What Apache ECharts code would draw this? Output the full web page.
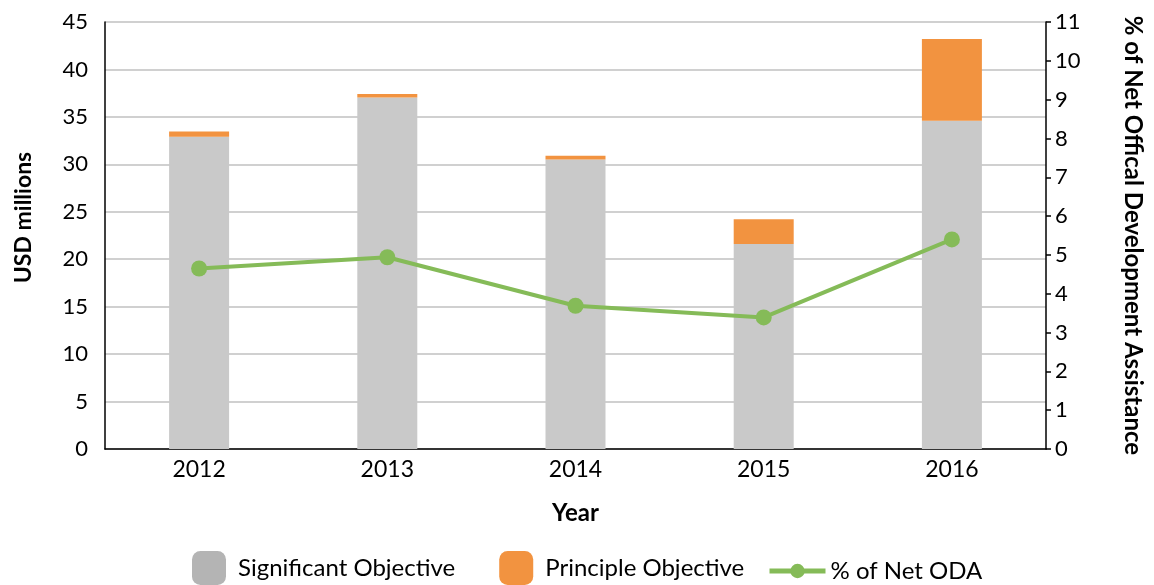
<!DOCTYPE html>
<html><head>
<meta charset="UTF-8">
<title>ODA chart</title>
<script type="text/javascript" src="https://cdn.jsdelivr.net/npm/echarts@6/dist/echarts.min.js"></script>
<style>
html,body{margin:0;padding:0;background:#fff;}
#main{width:1154px;height:585px;}
</style>
</head>
<body>
<div id="main"></div>
<script type="text/javascript">
var years = ['2012', '2013', '2014', '2015', '2016'];
var significant = [32.9, 37.05, 30.5, 21.6, 34.6];
var principle = [0.55, 0.35, 0.4, 2.6, 8.6];
var pctOda = [4.65, 4.94, 3.69, 3.39, 5.4];

var font = 'Lato';
var chart = echarts.init(document.getElementById('main'));
var option = {
	animation: false,
	textStyle: {fontFamily: font},
	grid: {left: 105, right: 108, top: 22, bottom: 136, containLabel: false},
	legend: [{
		left: 187, top: 546,
		itemWidth: 34, itemHeight: 34, itemGap: 44,
		textStyle: {fontSize: 24, color: '#000', fontFamily: font, padding: [0, 0, 0, 7]},
		data: [
			{name: 'Significant Objective', itemStyle: {color: '#b4b4b4'}},
			{name: 'Principle Objective', itemStyle: {color: '#f29340'}}
		]
	}, {
		left: 762, top: 554,
		itemWidth: 56, itemHeight: 18,
		lineStyle: {width: 5},
		textStyle: {fontSize: 24, color: '#000', fontFamily: font},
		data: ['% of Net ODA']
	}],
	xAxis: {
		type: 'category',
		data: years,
		name: 'Year',
		nameLocation: 'middle',
		nameGap: 52,
		nameTextStyle: {fontSize: 24, fontWeight: 'bold', color: '#000', fontFamily: font},
		axisLine: {lineStyle: {color: '#000', width: 1.5}},
		axisTick: {show: false},
		axisLabel: {fontSize: 23, color: '#000', margin: 9, fontFamily: font}
	},
	yAxis: [{
		type: 'value',
		min: 0, max: 45, interval: 5,
		name: 'USD millions',
		nameLocation: 'middle',
		nameGap: 70,
		nameTextStyle: {fontSize: 23, fontWeight: 'bold', color: '#000', fontFamily: font, padding: [0, 0, 0, 36]},
		axisLine: {show: true, lineStyle: {color: '#000', width: 1.5}},
		axisTick: {show: false},
		axisLabel: {fontSize: 22, color: '#000', margin: 17, fontFamily: font},
		splitLine: {lineStyle: {color: '#c0c0c0', width: 1.5}}
	}, {
		type: 'value',
		min: 0, max: 11, interval: 1,
		position: 'right',
		name: '% of Net Offical Development Assistance',
		nameLocation: 'middle',
		nameGap: 75,
		nameRotate: -90,
		nameTextStyle: {fontSize: 24, fontWeight: 'bold', color: '#000', fontFamily: font},
		axisLine: {show: true, lineStyle: {color: '#000', width: 1.5}},
		axisTick: {show: true, length: 5, lineStyle: {color: '#000', width: 1.5}},
		axisLabel: {fontSize: 22, color: '#000', margin: 9, fontFamily: font},
		splitLine: {show: false}
	}],
	series: [{
		name: 'Significant Objective',
		type: 'bar',
		stack: 'total',
		barWidth: 60,
		itemStyle: {color: '#c9c9c9'},
		data: significant
	}, {
		name: 'Principle Objective',
		type: 'bar',
		stack: 'total',
		barWidth: 60,
		itemStyle: {color: '#f29340'},
		data: principle
	}, {
		name: '% of Net ODA',
		type: 'line',
		yAxisIndex: 1,
		symbol: 'circle',
		symbolSize: 16,
		itemStyle: {color: '#85bb58'},
		lineStyle: {color: '#85bb58', width: 4},
		data: pctOda
	}]
};
chart.setOption(option);
</script>
</body>
</html>
